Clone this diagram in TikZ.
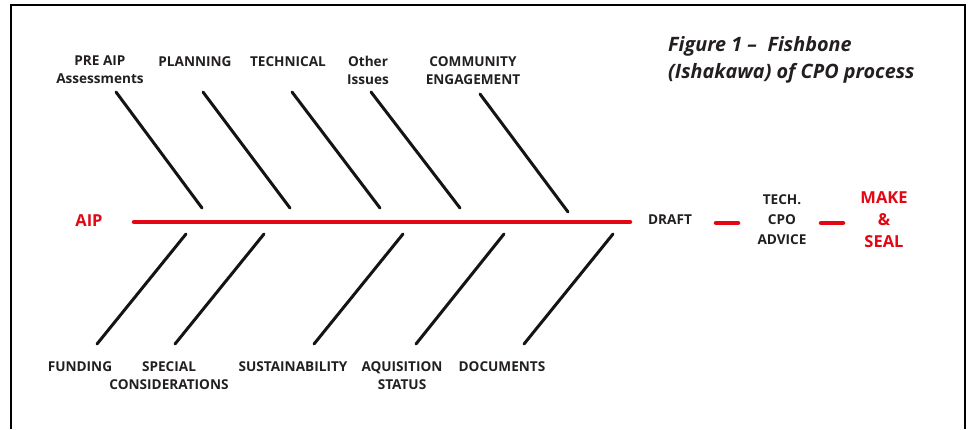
\documentclass[tikz,border=0pt]{standalone}
\usepackage{fontspec}
\setmainfont{Open Sans}
\definecolor{fbred}{RGB}{227,6,19}
\definecolor{fbtext}{RGB}{35,31,32}
\begin{document}
\begin{tikzpicture}[x=1pt,y=-1pt,
  lbl/.style={font=\fontsize{13.6}{18}\selectfont\bfseries, text=fbtext, align=center, inner sep=0pt},
  redlbl/.style={font=\fontsize{16.5}{22}\selectfont\bfseries, text=fbred, align=center, inner sep=0pt},
  bone/.style={line width=3pt, line cap=round, draw=black!92},
  spine/.style={line width=4.5pt, line cap=round, draw=fbred},
  frame/.style={line width=1.6pt, draw=black}]
\useasboundingbox (0,0) rectangle (968,429);
% frame (open at the bottom)
\draw[frame] (11,429) -- (11,5) -- (965,5) -- (965,429);
% title
\node[inner sep=0pt, anchor=west, align=left, font=\fontsize{19.8}{27}\selectfont\bfseries\itshape, text=fbtext] (title) at (668,60) {Figure 1 –\; Fishbone\\(Ishakawa) of CPO process};
% spine
\coordinate (s0) at (134,222);
\coordinate (s1) at (630,222);
\draw[spine] (s0) -- (s1);
\node[redlbl] (aip) at (89,221) {AIP};
% upper labels
\node[lbl, anchor=north] (pre) at (100,56) {PRE AIP\\Assessments};
\node[lbl, anchor=north] (plan) at (195,56) {PLANNING};
\node[lbl, anchor=north] (tech) at (288,56) {TECHNICAL};
\node[lbl, anchor=north] (other) at (368,56) {Other\\Issues};
\node[lbl, anchor=north] (comm) at (473,56) {COMMUNITY\\ENGAGEMENT};
% upper bones
\coordinate (u1a) at (116,92);  \coordinate (u1b) at (202,208);
\coordinate (u2a) at (203,92);  \coordinate (u2b) at (290,208);
\coordinate (u3a) at (292,92);  \coordinate (u3b) at (380,208);
\coordinate (u4a) at (371,92);  \coordinate (u4b) at (460,208);
\coordinate (u5a) at (480,94);  \coordinate (u5b) at (568,212);
\foreach \i in {1,...,5} {\draw[bone] (u\i a) -- (u\i b);}
% lower bones
\coordinate (l1a) at (186,234); \coordinate (l1b) at (97,344);
\coordinate (l2a) at (264,234); \coordinate (l2b) at (175,344);
\coordinate (l3a) at (403,234); \coordinate (l3b) at (314,344);
\coordinate (l4a) at (504,234); \coordinate (l4b) at (416,344);
\coordinate (l5a) at (613,234); \coordinate (l5b) at (524,344);
\foreach \i in {1,...,5} {\draw[bone] (l\i a) -- (l\i b);}
% lower labels
\node[lbl, anchor=north] (fund) at (80,361) {FUNDING};
\node[lbl, anchor=north] (spec) at (169,361) {SPECIAL\\CONSIDERATIONS};
\node[lbl, anchor=north] (sust) at (293,361) {SUSTAINABILITY};
\node[lbl, anchor=north] (aqu) at (402,361) {AQUISITION\\STATUS};
\node[lbl, anchor=north] (docs) at (502,361) {DOCUMENTS};
% process tail
\node[lbl] (draft) at (670,220) {DRAFT};
\node[lbl, font=\fontsize{13.6}{20}\selectfont\bfseries] (advice) at (782,220) {TECH.\\CPO\\ADVICE};
\node[redlbl] (make) at (884,220) {MAKE\\\&\\SEAL};
\coordinate (d1a) at (716,223); \coordinate (d1b) at (738,223);
\coordinate (d2a) at (821,223); \coordinate (d2b) at (843,223);
\draw[spine] (d1a) -- (d1b);
\draw[spine] (d2a) -- (d2b);
\end{tikzpicture}
\end{document}
